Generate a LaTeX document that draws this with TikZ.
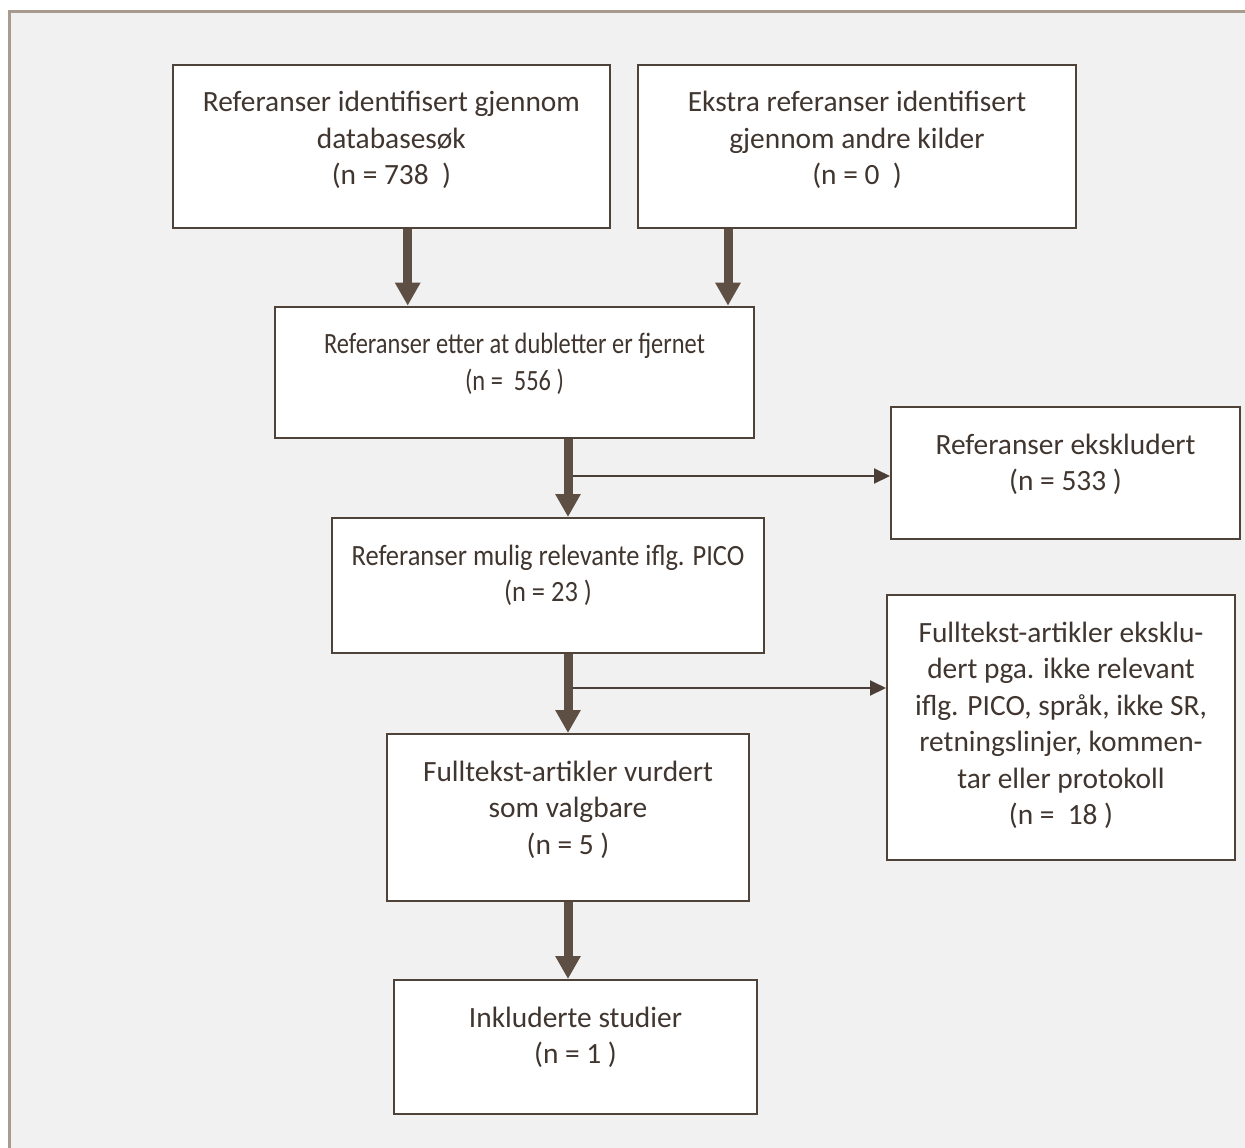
\documentclass[tikz,border=0pt]{standalone}
\usepackage{fontspec}
\setmainfont{Carlito}
\newfontfamily\condA[FakeStretch=0.83]{Carlito}
\newfontfamily\condB[FakeStretch=0.90]{Carlito}
\usetikzlibrary{arrows.meta,calc}
\definecolor{bgc}{HTML}{F1F1F1}
\definecolor{framec}{HTML}{A89A8E}
\definecolor{boxc}{HTML}{4F4239}
\definecolor{arrc}{HTML}{5E4F44}
\definecolor{thinc}{HTML}{4A3E37}
\definecolor{txtc}{HTML}{40362F}
\begin{document}
\begin{tikzpicture}[x=1bp,y=-1bp,
  flowbox/.style={draw=boxc,line width=2bp,fill=white,inner sep=0pt},
  flowtext/.style={anchor=base,align=center,text=txtc,font=\fontsize{29.4bp}{36.5bp}\selectfont,inner sep=0pt},
  bigarrow/.style={draw=arrc,line width=9bp,-{Triangle[width=24bp,length=23bp]}},
  thinarrow/.style={draw=thinc,line width=2bp,-{Triangle[width=15bp,length=16bp]}}]
\useasboundingbox (0,0) rectangle (1245,1148);
\clip (0,0) rectangle (1245,1148);
\fill[white] (0,0) rectangle (1245,1148);
\draw[framec,line width=2.5bp,fill=bgc] (9.5,11.5) rectangle (1260,1165);
% boxes
\node[flowbox,minimum width=437bp,minimum height=163bp] (b1) at (391.4,146.4) {};
\node[flowbox,minimum width=438bp,minimum height=163bp] (b2) at (857,146.4) {};
\node[flowbox,minimum width=479bp,minimum height=131bp] (b3) at (514.5,372.2) {};
\node[flowbox,minimum width=349bp,minimum height=132bp] (b4) at (1065.5,473) {};
\node[flowbox,minimum width=432bp,minimum height=135bp] (b5) at (548,585.5) {};
\node[flowbox,minimum width=348bp,minimum height=265bp] (b6) at (1061,727.5) {};
\node[flowbox,minimum width=362bp,minimum height=167bp] (b7) at (568,817.5) {};
\node[flowbox,minimum width=363bp,minimum height=134bp] (b8) at (575.5,1047) {};
% texts (anchor base = baseline of last line)
\node[flowtext] (t1) at ($(b1.north)+(0,121)$) {Referanser identifisert gjennom\\databasesøk\\(n = 738\ \ )};
\node[flowtext] (t2) at ($(b2.north)+(0,121)$) {Ekstra referanser identifisert\\gjennom andre kilder\\(n = 0\ \ )};
\node[flowtext,font=\fontsize{29.4bp}{36.5bp}\condA] (t3) at ($(b3.north)+(0,84.5)$) {Referanser etter at dubletter er fjernet\\(n =\ \ 556 )};
\node[flowtext] (t4) at ($(b4.north)+(0,84.5)$) {Referanser ekskludert\\(n = 533 )};
\node[flowtext,font=\fontsize{29.4bp}{36.5bp}\condB] (t5) at ($(b5.north)+(0,84.5)$) {Referanser mulig relevante iflg. PICO\\(n = 23 )};
\node[flowtext] (t6) at ($(b6.north)+(0,230.5)$) {Fulltekst-artikler eksklu-\\dert pga. ikke relevant\\iflg. PICO, språk, ikke SR,\\retningslinjer, kommen-\\tar eller protokoll\\(n =\ \ 18 )};
\node[flowtext] (t7) at ($(b7.north)+(0,121)$) {Fulltekst-artikler vurdert\\som valgbare\\(n = 5 )};
\node[flowtext] (t8) at ($(b8.north)+(0,84.5)$) {Inkluderte studier\\(n = 1 )};
% arrow columns
\coordinate (c1) at (407.7,0);
\coordinate (c2) at (728,0);
\coordinate (c3) at (568,0);
\coordinate (s1) at (568,476);
\coordinate (s2) at (568,688);
% side arrows
\draw[thinarrow] (s1) -- (s1 -| b4.west);
\draw[thinarrow] (s2) -- (s2 -| b6.west);
% main arrows
\draw[bigarrow] (b1.south -| c1) -- (b3.north -| c1);
\draw[bigarrow] (b2.south -| c2) -- (b3.north -| c2);
\draw[bigarrow] (b3.south -| c3) -- (b5.north -| c3);
\draw[bigarrow] (b5.south -| c3) -- (b7.north -| c3);
\draw[bigarrow] (b7.south -| c3) -- (b8.north -| c3);
\end{tikzpicture}
\end{document}
